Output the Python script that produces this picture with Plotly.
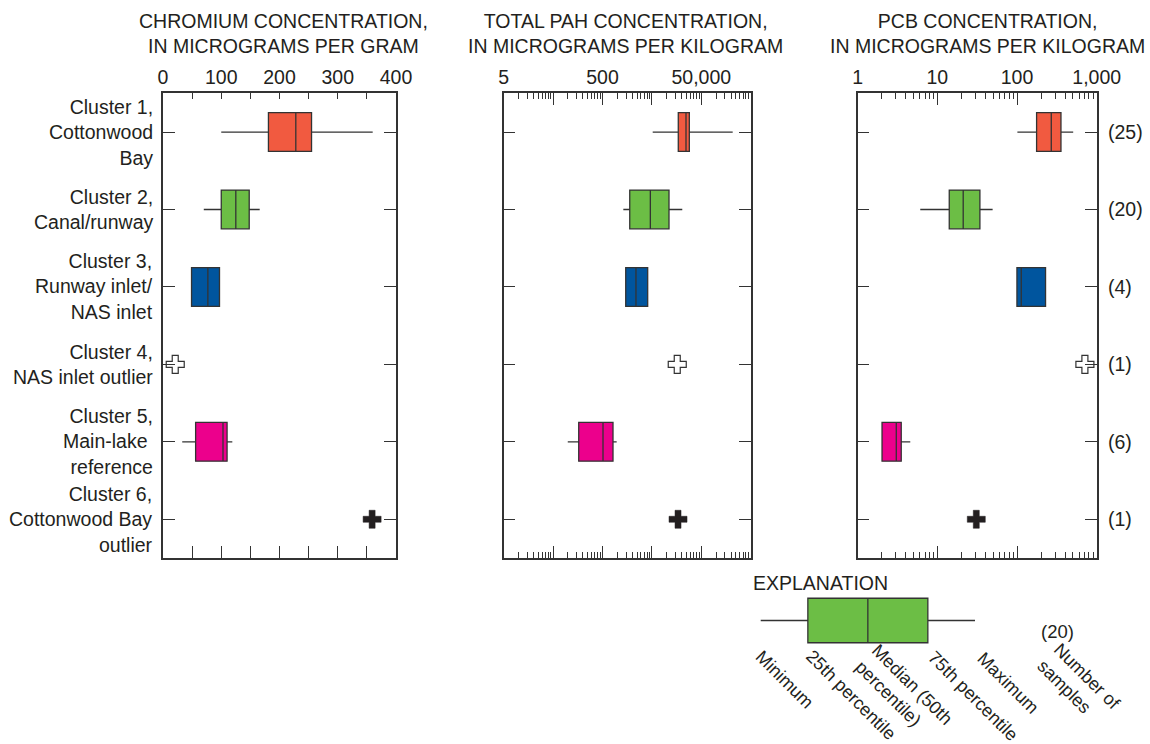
import plotly.graph_objects as go
import math

W, H = 1150, 744

# ---------------- data ----------------
clusters = ["Cluster 1,<br>Cottonwood<br>Bay",
            "Cluster 2,<br>Canal/runway",
            "Cluster 3,<br>Runway inlet/<br>NAS inlet",
            "Cluster 4,<br>NAS inlet outlier",
            "Cluster 5,<br>Main-lake <br>reference",
            "Cluster 6,<br>Cottonwood Bay<br>outlier"]
rows = [1, 2, 3, 4, 5, 6]
n_samples = ["(25)", "(20)", "(4)", "(1)", "(6)", "(1)"]
box_colors = ["#F15A40", "#6CBE45", "#00559E", None, "#EC008C", None]

# box statistics per cluster: [min, q1, median, q3, max]
chromium_box = {1: [100, 181, 228, 255, 360],
                2: [70, 100, 125, 148, 166],
                3: [49, 49, 77, 97, 97],
                5: [33, 56, 103, 110, 119]}
chromium_single = {4: 21, 6: 359}

pah_box = {1: [5190, 17100, 24500, 28600, 216000],
           2: [1320, 1780, 4650, 11100, 20600],
           3: [1475, 1475, 2380, 4110, 4150],
           5: [99, 165, 512, 816, 968]}
pah_single = {4: 16300, 6: 16900}

pcb_box = {1: [101, 176, 269, 356, 507],
           2: [6.1, 14.1, 21.1, 34.2, 49.4],
           3: [99.7, 99.7, 113, 228, 232],
           5: [2.02, 2.02, 3.05, 3.52, 4.57]}
pcb_single = {4: 711, 6: 30.8}

titles = ["CHROMIUM CONCENTRATION,<br>IN MICROGRAMS PER GRAM",
          "TOTAL PAH CONCENTRATION,<br>IN MICROGRAMS PER KILOGRAM",
          "PCB CONCENTRATION,<br>IN MICROGRAMS PER KILOGRAM"]

chrom_ticks = [0, 50, 100, 150, 200, 250, 300, 350, 400]
chrom_ticktext = ["0", "", "100", "", "200", "", "300", "", "400"]
pah_ticks = [5, 50, 500, 5000, 50000, 500000]
pah_ticktext = ["5", "", "500", "", "50,000", ""]
pah_minor = [5 * k * 10 ** e for e in range(0, 5) for k in range(2, 10)]
pcb_ticks = [1, 10, 100, 1000]
pcb_ticktext = ["1", "10", "100", "1,000"]
pcb_minor = [k * 10 ** e for e in range(0, 3) for k in range(2, 10)]

legend_stats = [0, 22, 50, 78, 100]
legend_labels = ["Minimum", "25th percentile", "Median (50th<br>percentile)",
                 "75th percentile", "Maximum", "Number of<br>samples"]
legend_n = "(20)"

FONT = "Liberation Sans, Arial, Helvetica, sans-serif"
TXT = "#231f20"
LINE = "#333333"
FS = 19.5

def px(x):
    return x / W

def py(y):
    return 1 - y / H

panels_px = [(163, 396), (503.7, 750.7), (857.7, 1096.7)]
top_px, bot_px = 93.3, 558
ydom = [py(bot_px), py(top_px)]

fig = go.Figure()

panel_data = [(chromium_box, chromium_single),
              (pah_box, pah_single),
              (pcb_box, pcb_single)]

for i, (bx, single) in enumerate(panel_data):
    xa = "x" if i == 0 else f"x{i+1}"
    ya = "y" if i == 0 else f"y{i+1}"
    for r, st in bx.items():
        fig.add_trace(go.Box(
            orientation="h", y=[r], lowerfence=[st[0]], q1=[st[1]],
            median=[st[2]], q3=[st[3]], upperfence=[st[4]],
            fillcolor=box_colors[r - 1], line=dict(color=LINE, width=1.3),
            whiskerwidth=0, width=0.5, boxpoints=False,
            xaxis=xa, yaxis=ya, showlegend=False, hoverinfo="skip"))
    fig.add_trace(go.Scatter(
        x=[single[4]], y=[4], mode="markers", xaxis=xa, yaxis=ya,
        marker=dict(symbol="cross", size=15, color="white",
                    line=dict(color=LINE, width=1.2)),
        showlegend=False, hoverinfo="skip", cliponaxis=False))
    fig.add_trace(go.Scatter(
        x=[single[6]], y=[6], mode="markers", xaxis=xa, yaxis=ya,
        marker=dict(symbol="cross", size=15, color="#231f20",
                    line=dict(color="#231f20", width=0.5)),
        showlegend=False, hoverinfo="skip", cliponaxis=False))

# invisible anchors for the top (labelled) axes
for i in range(3):
    xa = f"x{i+5}"
    ya = "y" if i == 0 else f"y{i+1}"
    xv = [chrom_ticks[0], pah_ticks[0], pcb_ticks[0]][i]
    fig.add_trace(go.Scatter(x=[xv], y=[1], mode="markers", xaxis=xa, yaxis=ya,
                             marker=dict(opacity=0), showlegend=False,
                             hoverinfo="skip"))

# explanation box
fig.add_trace(go.Box(
    orientation="h", y=[1], lowerfence=[legend_stats[0]], q1=[legend_stats[1]],
    median=[legend_stats[2]], q3=[legend_stats[3]], upperfence=[legend_stats[4]],
    fillcolor="#6CBE45", line=dict(color=LINE, width=1.3), whiskerwidth=0,
    width=0.5, boxpoints=False, xaxis="x4", yaxis="y4", showlegend=False,
    hoverinfo="skip"))

common_y = dict(range=[6.5, 0.5], domain=ydom, showline=True, linecolor=LINE,
                linewidth=1.5, mirror="ticks", ticks="inside", ticklen=12,
                tickwidth=1.3, tickcolor=LINE, tickvals=rows,
                showticklabels=False, showgrid=False, zeroline=False,
                fixedrange=True, automargin=False)

def bottom_axis(i, typ, rng, tickvals, minor=None):
    d = dict(domain=[px(panels_px[i][0]), px(panels_px[i][1])],
             range=rng, type=typ, anchor="y" if i == 0 else f"y{i+1}",
             showline=True, linecolor=LINE, linewidth=1.5, ticks="inside",
             ticklen=12, tickwidth=1.2, tickcolor=LINE, tickvals=tickvals,
             showticklabels=False, showgrid=False, zeroline=False,
             side="bottom", automargin=False)
    if minor is not None:
        d["minor"] = dict(tickvals=minor, ticks="inside", ticklen=6,
                          tickwidth=1, tickcolor=LINE, showgrid=False)
    return d

def top_axis(i, typ, rng, tickvals, ticktext, minor=None, ticklen=12):
    d = dict(overlaying="x" if i == 0 else f"x{i+1}",
             range=rng, type=typ, anchor="y" if i == 0 else f"y{i+1}",
             side="top", showline=True, linecolor=LINE, linewidth=1.5,
             ticks="inside", ticklen=ticklen, tickwidth=1.2, tickcolor=LINE,
             tickvals=tickvals, ticktext=ticktext, showticklabels=True,
             tickfont=dict(family=FONT, size=FS, color=TXT),
             showgrid=False, zeroline=False, automargin=False)
    if minor is not None:
        d["minor"] = dict(tickvals=minor, ticks="inside", ticklen=6,
                          tickwidth=1, tickcolor=LINE, showgrid=False)
    return d

pah_rng = [math.log10(5), math.log10(500000)]
pcb_rng = [0, 3]

layout = dict(
    width=W, height=H, autosize=False,
    margin=dict(l=0, r=0, t=0, b=0, pad=0, autoexpand=False),
    paper_bgcolor="white", plot_bgcolor="rgba(0,0,0,0)",
    font=dict(family=FONT, size=FS, color=TXT),
    showlegend=False,
    xaxis=bottom_axis(0, "linear", [0, 400], chrom_ticks),
    xaxis2=bottom_axis(1, "log", pah_rng, pah_ticks, pah_minor),
    xaxis3=bottom_axis(2, "log", pcb_rng, pcb_ticks, pcb_minor),
    xaxis5=top_axis(0, "linear", [0, 400], chrom_ticks, chrom_ticktext, ticklen=6),
    xaxis6=top_axis(1, "log", pah_rng, pah_ticks, pah_ticktext, pah_minor),
    xaxis7=top_axis(2, "log", pcb_rng, pcb_ticks, pcb_ticktext, pcb_minor),
    yaxis=dict(common_y, anchor="x"),
    yaxis2=dict(common_y, anchor="x2"),
    yaxis3=dict(common_y, anchor="x3"),
    xaxis4=dict(domain=[px(750), px(985.7)], range=[-5, 105], visible=False,
                anchor="y4", fixedrange=True, automargin=False),
    yaxis4=dict(domain=[py(665), py(576)], range=[0.5, 1.5], visible=False,
                anchor="x4", fixedrange=True, automargin=False),
)
fig.update_layout(**layout)

ann = []
title_centers = [283.5, 625, 987]
for t, cx in zip(titles, title_centers):
    ann.append(dict(text=t, x=px(cx), y=py(33.5), xref="paper", yref="paper",
                    xanchor="center", yanchor="middle", showarrow=False,
                    font=dict(family=FONT, size=FS, color=TXT)))
for lab, r in zip(clusters, rows):
    ann.append(dict(text=lab, x=px(155), y=r, xref="paper", yref="y",
                    xanchor="right", yanchor="middle", align="right",
                    showarrow=False, font=dict(family=FONT, size=FS, color=TXT)))
for n, r in zip(n_samples, rows):
    ann.append(dict(text=n, x=px(1106), y=r, xref="paper", yref="y3",
                    xanchor="left", yanchor="middle", showarrow=False,
                    font=dict(family=FONT, size=FS, color=TXT)))
ann.append(dict(text="EXPLANATION", x=px(751), y=py(583), xref="paper",
                yref="paper", xanchor="left", yanchor="middle",
                showarrow=False, font=dict(family=FONT, size=FS, color=TXT)))
ann.append(dict(text=legend_n, x=px(1057), y=py(631), xref="paper",
                yref="paper", xanchor="center", yanchor="middle",
                showarrow=False, font=dict(family=FONT, size=18.5, color=TXT)))
leg_centers = [(785, 680), (851, 695), (904, 692), (973, 696), (1008, 683),
               (1079, 684)]
for lab, (cx, cy) in zip(legend_labels, leg_centers):
    ann.append(dict(text=lab, x=px(cx), y=py(cy), xref="paper", yref="paper",
                    xanchor="center", yanchor="middle", align="left",
                    textangle=45, showarrow=False,
                    font=dict(family=FONT, size=18, color=TXT)))

fig.update_layout(annotations=ann)
fig.write_html("out.html", config={"responsive": False})
